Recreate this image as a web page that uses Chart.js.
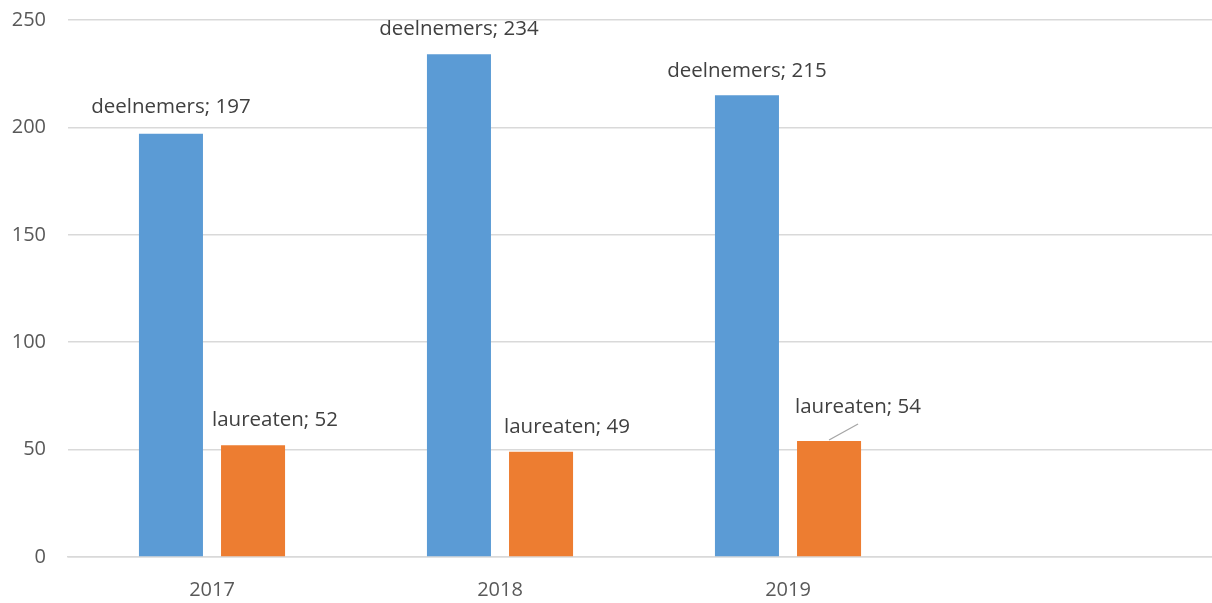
<!DOCTYPE html>
<html>
<head>
<meta charset="utf-8">
<script src="https://cdn.jsdelivr.net/npm/chart.js@4/dist/chart.umd.min.js"></script>
<style>
  html, body { margin: 0; padding: 0; background: #fff; overflow: hidden; }
  #wrap { width: 1220px; height: 603px; position: relative; }
</style>
</head>
<body>
<div id="wrap"><canvas id="c"></canvas></div>
<script>
const categories = ["2017", "2018", "2019", ""];
const seriesNames = ["deelnemers", "laureaten"];
const deelnemers = [197, 234, 215, null];
const laureaten = [52, 49, 54, null];
const yTicks = [0, 50, 100, 150, 200, 250];

// label offsets (relative to bar top-center), per dataset and category
const labelOffsets = [
  [[0, -27], [0, -25], [0, -24]],
  [[22, -25], [26, -25], [29, -34]]
];

const FONT = "'Open Sans', 'Noto Sans', sans-serif";

const labelPlugin = {
  id: 'barLabels',
  afterDatasetsDraw(chart) {
    const ctx = chart.ctx;
    ctx.save();
    ctx.font = "20.5px " + FONT;
    ctx.fillStyle = "#404040";
    ctx.textAlign = "center";
    ctx.textBaseline = "middle";
    chart.data.datasets.forEach((ds, di) => {
      const meta = chart.getDatasetMeta(di);
      meta.data.forEach((bar, i) => {
        const v = ds.data[i];
        if (v == null) return;
        const off = labelOffsets[di][i];
        const x = bar.x + off[0];
        const y = bar.y + off[1];
        if (di === 1 && i === 2) {
          ctx.save();
          ctx.strokeStyle = "#a6a6a6";
          ctx.lineWidth = 1.3;
          ctx.beginPath();
          ctx.moveTo(bar.x, bar.y - 1);
          ctx.lineTo(bar.x + off[0], bar.y + off[1] + 17);
          ctx.stroke();
          ctx.restore();
        }
        ctx.fillText(ds.label + "; " + v, x, y);
      });
    });
    ctx.restore();
  }
};

new Chart(document.getElementById('c'), {
  type: 'bar',
  data: {
    labels: categories,
    datasets: [
      { label: seriesNames[0], data: deelnemers, backgroundColor: "#5B9BD5" },
      { label: seriesNames[1], data: laureaten, backgroundColor: "#ED7D31" }
    ]
  },
  options: {
    responsive: true,
    maintainAspectRatio: false,
    animation: false,
    categoryPercentage: 0.57,
    barPercentage: 0.78,
    layout: { padding: { top: 20, right: 0, bottom: 0, left: 0 } },
    plugins: {
      legend: { display: false },
      tooltip: { enabled: false }
    },
    scales: {
      x: {
        grid: { display: false, drawTicks: false },
        border: { display: true, color: "#d9d9d9", width: 1.5 },
        ticks: { color: "#595959", font: { family: FONT, size: 20 }, padding: 21 },
        afterFit(s) { s.height = 46; }
      },
      y: {
        min: 0, max: 250,
        afterBuildTicks(s) { s.ticks = yTicks.map(v => ({ value: v })); },
        grid: { color: "#d9d9d9", lineWidth: 1.5, drawTicks: false },
        border: { display: false },
        ticks: { color: "#595959", font: { family: FONT, size: 20 }, padding: 22 },
        afterFit(s) { s.width = 68; s.paddingTop = 0; s.paddingBottom = 0; }
      }
    }
  },
  plugins: [labelPlugin]
});
</script>
</body>
</html>
